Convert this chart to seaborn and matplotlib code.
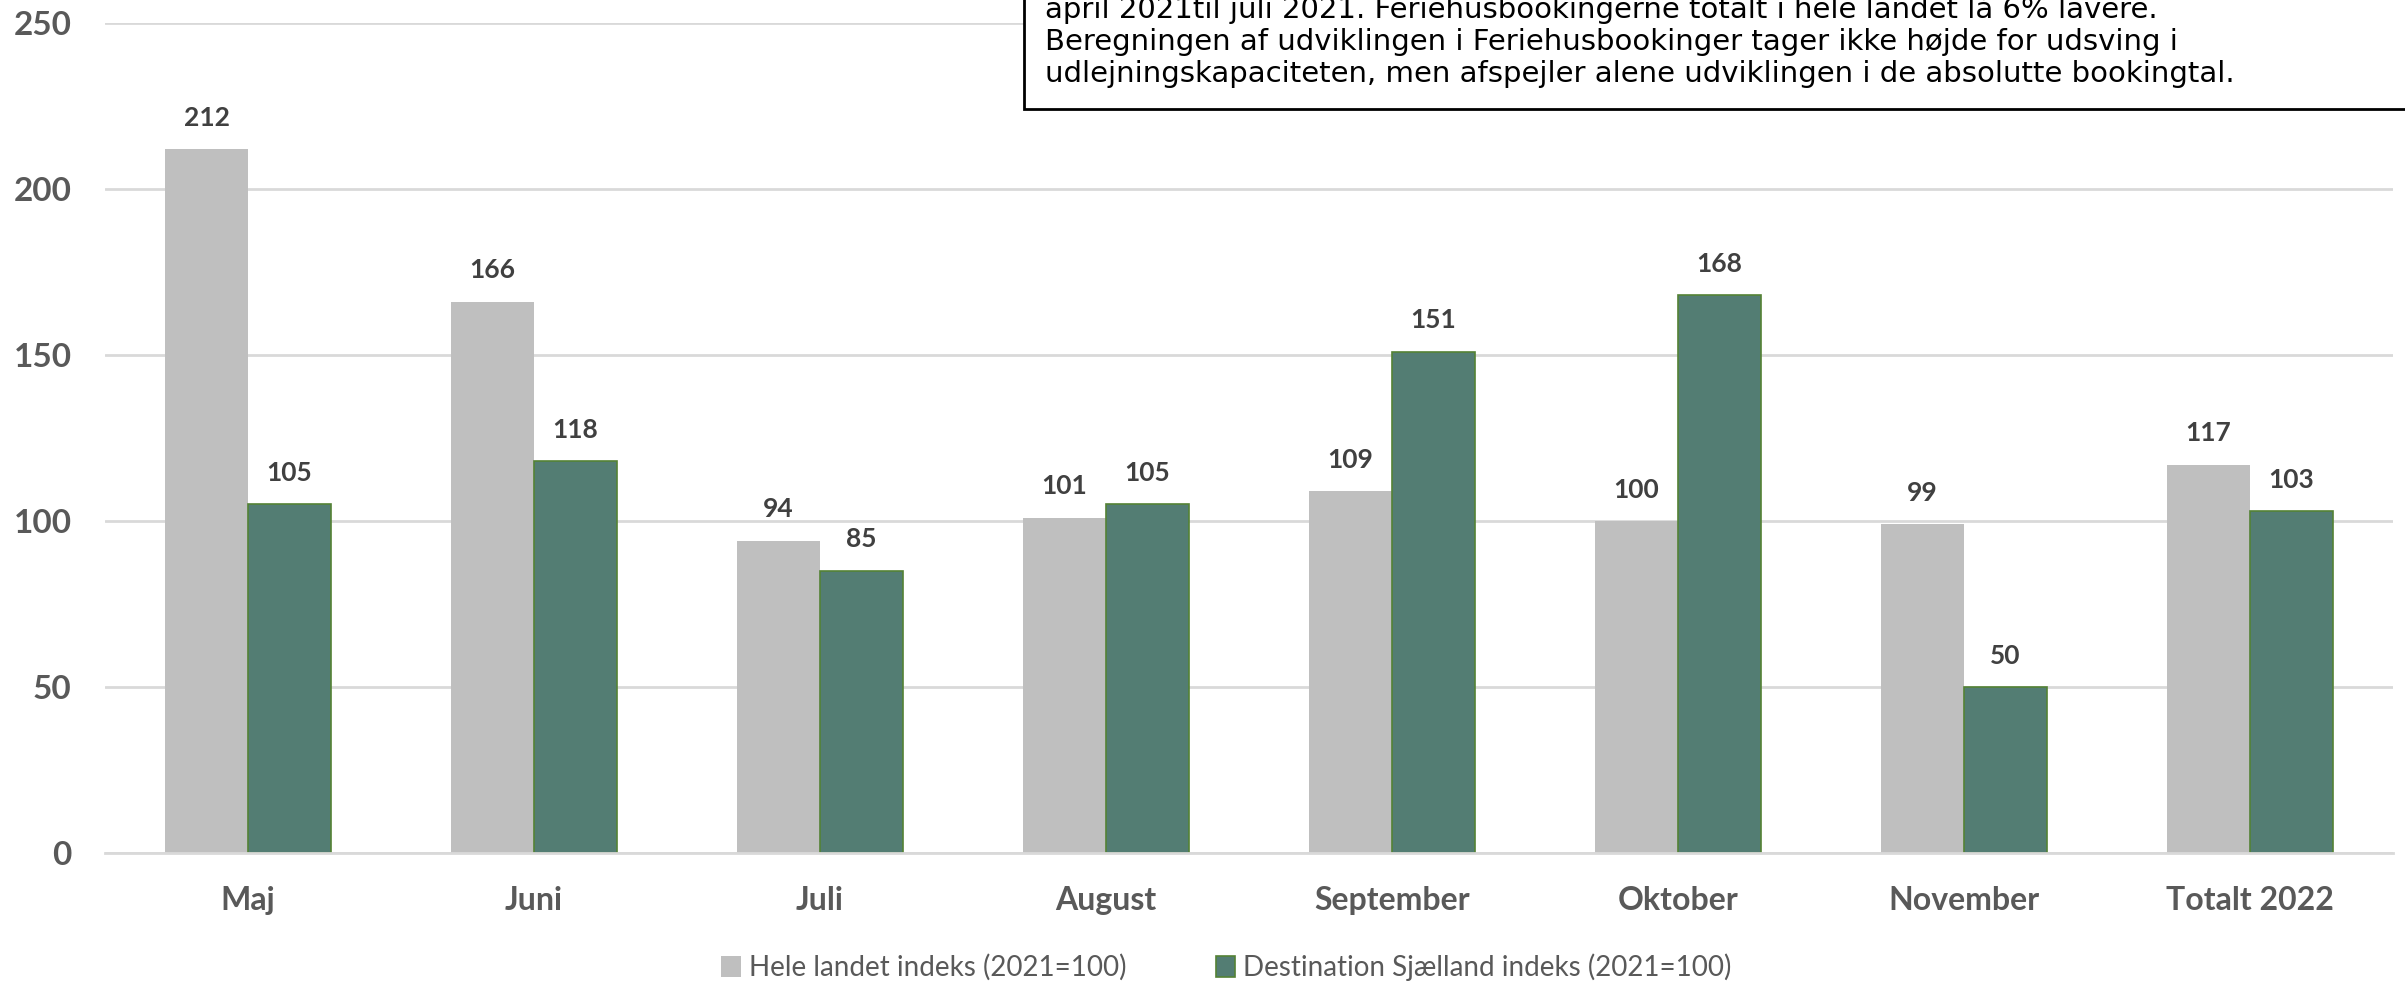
import numpy as np
import pandas as pd
import matplotlib.pyplot as plt
import seaborn as sns
from matplotlib.patches import Rectangle

# Data
months = ["Maj", "Juni", "Juli", "August", "September", "Oktober", "November", "Totalt 2022"]
hele_landet = [212, 166, 94, 101, 109, 100, 99, 117]
sjaelland = [105, 118, 85, 105, 151, 168, 50, 103]
series_names = ["Hele landet indeks (2021=100)", "Destination Sjælland indeks (2021=100)"]
y_ticks = [0, 50, 100, 150, 200, 250]
note_lines = [
    "april 2021til juli 2021. Feriehusbookingerne totalt i hele landet lå 6% lavere.",
    "Beregningen af udviklingen i Feriehusbookinger tager ikke højde for udsving i",
    "udlejningskapaciteten, men afspejler alene udviklingen i de absolutte bookingtal.",
]

df = pd.DataFrame({
    "month": months * 2,
    "value": hele_landet + sjaelland,
    "series": [series_names[0]] * len(months) + [series_names[1]] * len(months),
})

sns.set_theme(style="white")
plt.rcParams["font.family"] = ["Lato", "DejaVu Sans"]

fig = plt.figure(figsize=(24.05, 9.84), dpi=100)
ax = fig.add_axes([105 / 2405, 1 - 853 / 984, (2393 - 105) / 2405, (853 - 23) / 984])

palette = {series_names[0]: "#BFBFBF", series_names[1]: "#537D73"}
sns.barplot(data=df, x="month", y="value", hue="series", palette=palette,
            width=0.58, gap=0, saturation=1, ax=ax, legend=False)

for bar in ax.containers[1]:
    bar.set_edgecolor("#548235")
    bar.set_linewidth(1.2)
for bar in ax.containers[0]:
    bar.set_linewidth(0)

for cont in ax.containers:
    ax.bar_label(cont, fmt="%d", padding=14, fontsize=19, fontweight="bold", color="#404040")

ax.set_ylim(0, 250)
ax.set_yticks(y_ticks)
ax.yaxis.grid(True, color="#D9D9D9", linewidth=2)
ax.set_axisbelow(True)
ax.set_xlabel("")
ax.set_ylabel("")
for s in ["top", "right", "left"]:
    ax.spines[s].set_visible(False)
ax.spines["bottom"].set_color("#D9D9D9")
ax.spines["bottom"].set_linewidth(2)
ax.tick_params(axis="y", length=0, pad=24, labelsize=24, labelcolor="#595959")
ax.tick_params(axis="x", length=0, pad=24, labelsize=23, labelcolor="#595959")
for lab in ax.get_xticklabels() + ax.get_yticklabels():
    lab.set_fontweight("bold")

handles = [ax.containers[0][0], ax.containers[1][0]]
fig.legend(handles, series_names, loc="center", bbox_to_anchor=(0.51, 0.017),
           ncol=2, frameon=False, fontsize=20, labelcolor="#595959",
           handlelength=0.7, handleheight=0.8, handletextpad=0.3, columnspacing=3.2)

# note box, partly outside the figure as in the reference
box = Rectangle((1024 / 2405, 1 - 109 / 984), 0.6, 0.3, transform=fig.transFigure,
                facecolor="white", edgecolor="black", linewidth=2, zorder=5)
fig.add_artist(box)
for i, line in enumerate(note_lines):
    fig.text(1045 / 2405, 1 - (18 + 32 * i) / 984, line, fontsize=21,
             family="DejaVu Sans", color="black", va="baseline", ha="left", zorder=6)

fig.savefig("out.png", dpi=100)
